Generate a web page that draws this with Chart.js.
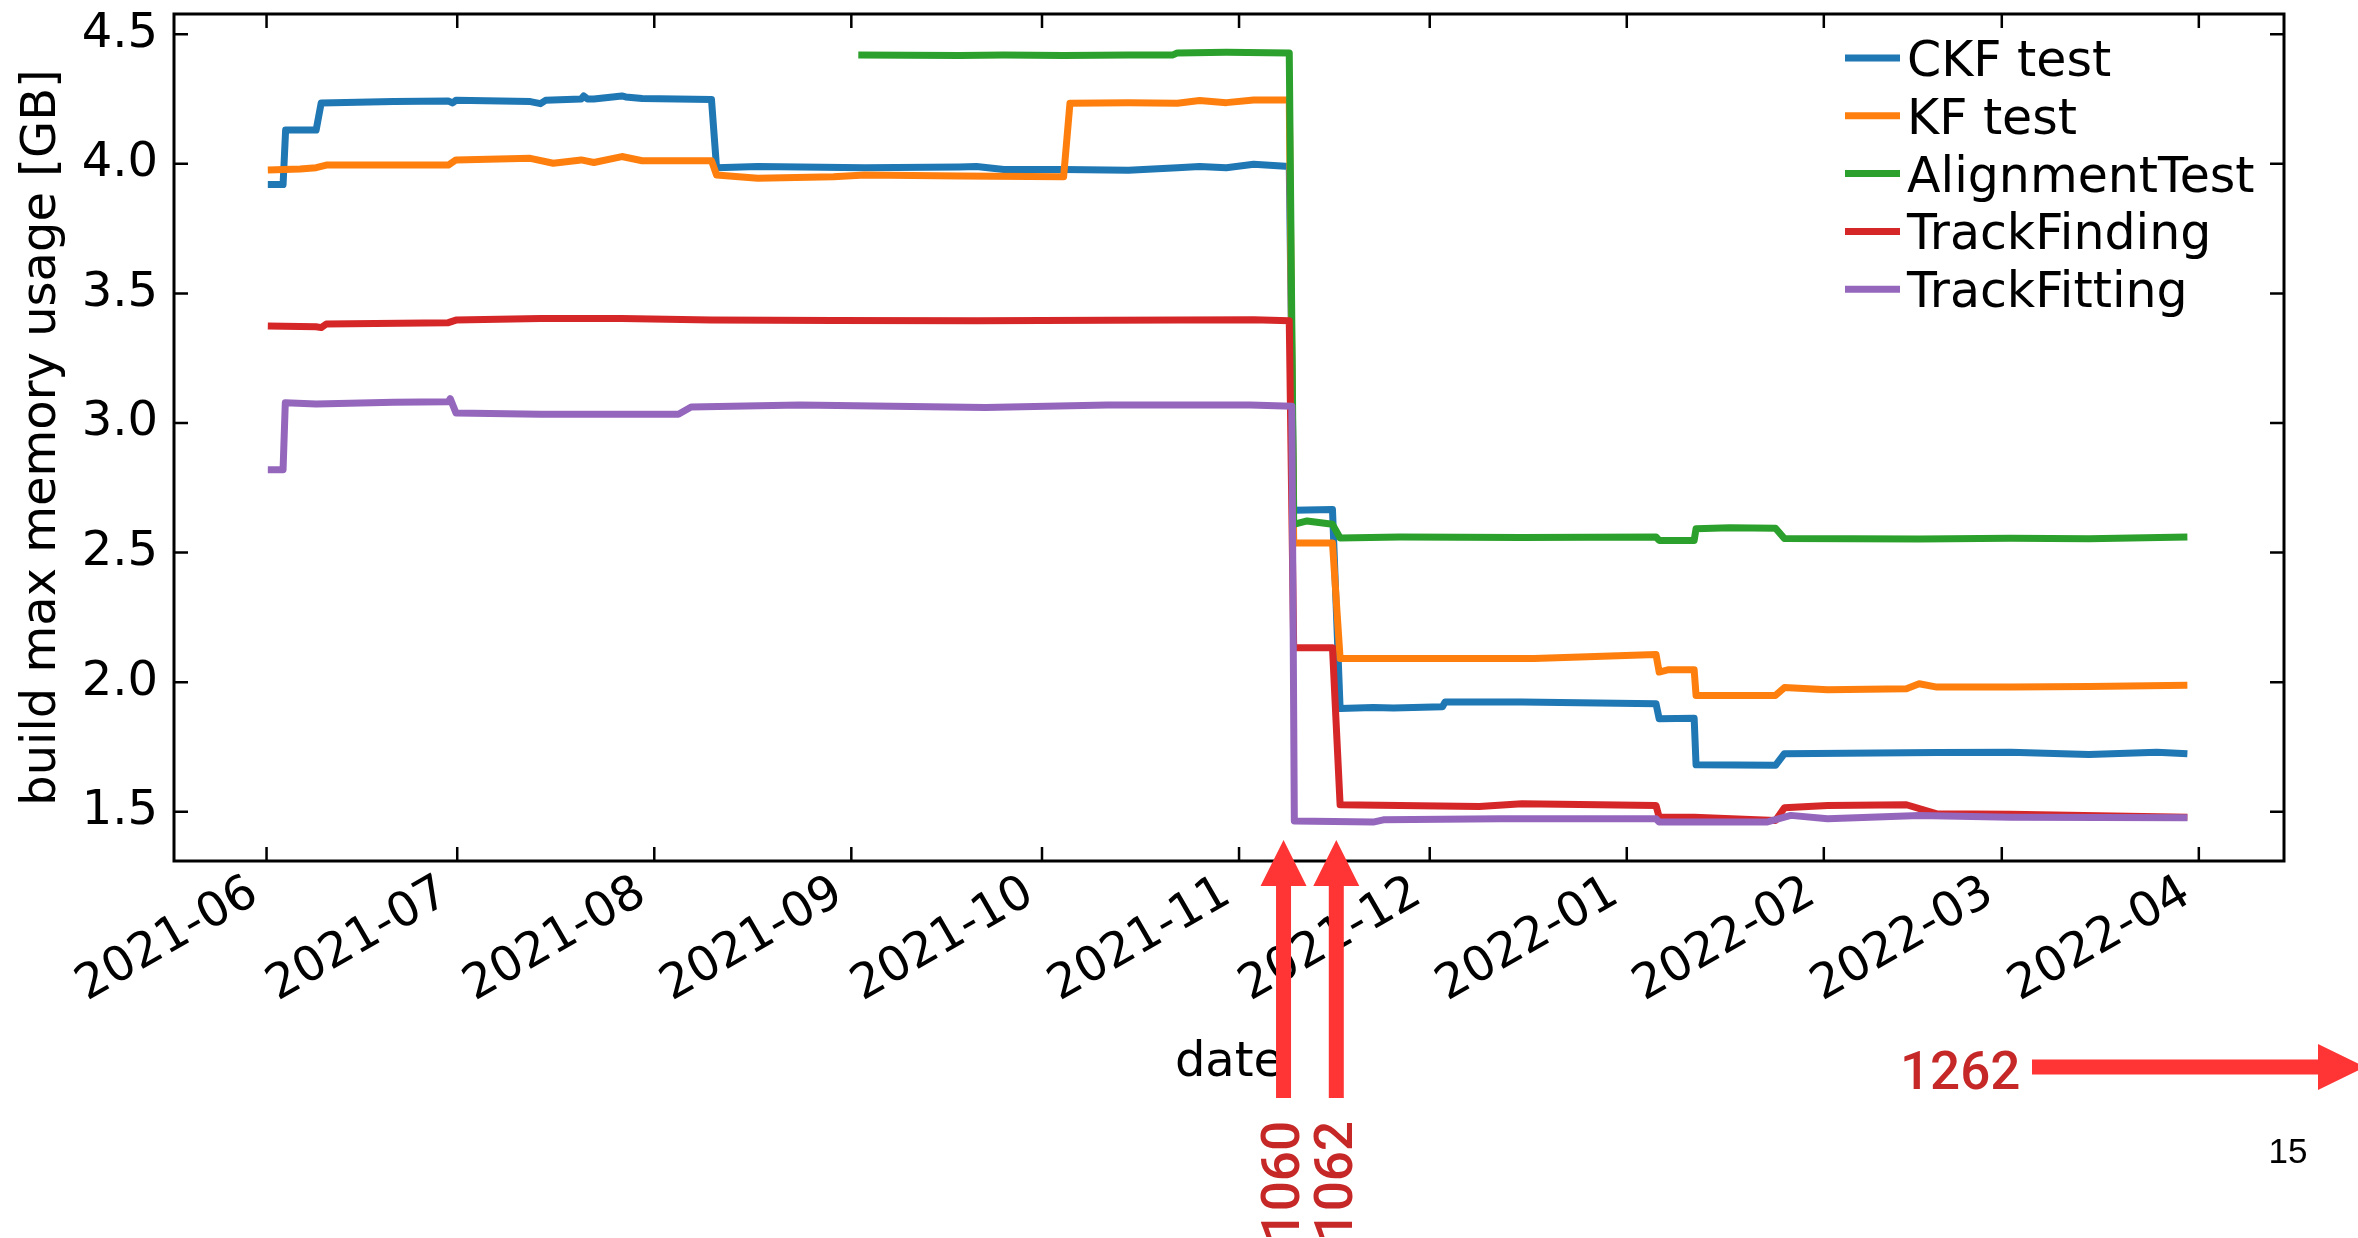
<!DOCTYPE html>
<html>
<head>
<meta charset="utf-8">
<title>build max memory usage</title>
<script src="https://cdn.jsdelivr.net/npm/chart.js@4.4.1/dist/chart.umd.min.js"></script>
<style>
    html, body { margin: 0; padding: 0; background: #ffffff; }
    #wrap { width: 2358px; height: 1238px; }
</style>
</head>
<body>
<div id="wrap"><canvas id="myChart" width="2358" height="1238"></canvas></div>
<script>
// x values are days since 2021-06-01
const monthDays = [0, 30, 61, 92, 122, 153, 183, 214, 245, 273, 304];
const monthLabels = ['2021-06', '2021-07', '2021-08', '2021-09', '2021-10', '2021-11',
    '2021-12', '2022-01', '2022-02', '2022-03', '2022-04'];
const yTicks = [1.5, 2.0, 2.5, 3.0, 3.5, 4.0, 4.5];

const seriesNames = ['CKF test', 'KF test', 'AlignmentTest', 'TrackFinding', 'TrackFitting'];
const seriesColors = ['#1f77b4', '#ff7f0e', '#2ca02c', '#d62728', '#9467bd'];

const ckfDays = [0.2, 2.6, 3.0, 7.8, 8.6, 20, 28.6, 29.3, 29.8, 41.5,
    43.1, 43.9, 49.5, 49.9, 50.5, 51.5, 55.9, 56.5, 59.1, 70.0,
    70.8, 77.3, 94.1, 109.0, 111.7, 116.0, 125.4, 135.6, 143.3, 146.8,
    151.0, 155.3, 160.9, 161.6, 167.7, 168.9, 174.1, 177.3, 185.0, 185.4,
    197.5, 218.6, 219.1, 224.6, 224.9, 237.4, 238.8, 262.8, 274.4, 286.7,
    297.4, 302.2];
const ckfValues = [3.92, 3.92, 4.13, 4.13, 4.235, 4.24, 4.242, 4.235, 4.245, 4.24,
    4.232, 4.245, 4.25, 4.262, 4.25, 4.25, 4.262, 4.258, 4.252, 4.248,
    3.985, 3.99, 3.985, 3.988, 3.99, 3.978, 3.978, 3.975, 3.985, 3.99,
    3.985, 3.998, 3.99, 2.663, 2.666, 1.898, 1.902, 1.90, 1.905, 1.923,
    1.923, 1.917, 1.859, 1.861, 1.681, 1.679, 1.724, 1.729, 1.730, 1.721,
    1.730, 1.724];

const kfDays = [0.2, 5.3, 7.8, 9.4, 28.6, 29.8, 41.5, 45.1, 49.5, 51.5,
    55.9, 59.1, 70.0, 70.8, 77.3, 89.2, 94.1, 109.0, 125.4, 126.4,
    135.6, 143.3, 146.8, 151.0, 155.3, 160.9, 161.6, 167.7, 168.9, 178.3,
    199.4, 218.6, 219.1, 220.6, 224.6, 224.9, 237.4, 238.8, 245.6, 258.0,
    260.0, 262.8, 274.4, 286.7, 302.2];
const kfValues = [3.976, 3.98, 3.985, 3.995, 3.995, 4.015, 4.021, 4.002, 4.015, 4.005,
    4.028, 4.012, 4.012, 3.957, 3.944, 3.95, 3.957, 3.953, 3.95, 4.234,
    4.236, 4.234, 4.244, 4.236, 4.246, 4.246, 2.537, 2.537, 2.091, 2.091,
    2.091, 2.107, 2.039, 2.048, 2.048, 1.949, 1.949, 1.979, 1.971, 1.975,
    1.994, 1.981, 1.981, 1.983, 1.988];

const alignDays = [93.1, 109.0, 116.0, 125.4, 135.6, 142.6, 143.3, 151.0, 160.9, 161.6,
    163.7, 167.7, 168.9, 178.3, 197.5, 218.6, 219.1, 224.6, 224.9, 230.2,
    237.4, 238.8, 260.0, 274.4, 286.7, 302.2];
const alignValues = [4.42, 4.418, 4.42, 4.418, 4.42, 4.42, 4.428, 4.43, 4.428, 2.609,
    2.622, 2.609, 2.556, 2.56, 2.558, 2.56, 2.547, 2.547, 2.592, 2.596,
    2.594, 2.554, 2.552, 2.555, 2.553, 2.56];

const findDays = [0.2, 7.8, 8.6, 9.4, 28.6, 29.8, 43.1, 55.9, 70.0, 89.2,
    111.7, 132.3, 155.3, 160.9, 161.6, 167.7, 168.9, 178.3, 190.8, 197.5,
    218.6, 219.1, 224.6, 237.4, 238.8, 245.6, 258.0, 262.8, 274.4, 302.2];
const findValues = [3.374, 3.371, 3.368, 3.382, 3.387, 3.397, 3.403, 3.403, 3.397, 3.395,
    3.394, 3.396, 3.398, 3.394, 2.133, 2.133, 1.527, 1.524, 1.52, 1.531,
    1.524, 1.479, 1.479, 1.466, 1.515, 1.524, 1.527, 1.492, 1.49, 1.479];

const fitDays = [0.2, 2.6, 2.95, 7.8, 20, 28.6, 28.9, 29.8, 43.1, 64.8,
    66.8, 83.9, 113.1, 132.3, 154.8, 161.3, 161.7, 174.1, 175.7, 194.0,
    218.6, 219.1, 236.0, 239.8, 245.6, 260.0, 274.4, 302.2];
const fitValues = [2.82, 2.82, 3.078, 3.073, 3.08, 3.082, 3.094, 3.039, 3.034, 3.034,
    3.062, 3.069, 3.06, 3.069, 3.069, 3.065, 1.464, 1.46, 1.469, 1.473,
    1.473, 1.46, 1.46, 1.486, 1.473, 1.486, 1.479, 1.477];

// slide annotations (commit numbers pointing at the drop)
const arrowDays = [160.0, 168.3];
const arrowLabels = ['1060', '1062'];
const sideLabel = '1262';
const pageNumber = '15';

const allDays = [ckfDays, kfDays, alignDays, findDays, fitDays];
const allValues = [ckfValues, kfValues, alignValues, findValues, fitValues];

const FONT = 'DejaVu Sans';

const datasets = seriesNames.map((name, i) => ({
    label: name,
    data: allDays[i].map((d, j) => ({ x: d, y: allValues[i][j] })),
    borderColor: seriesColors[i],
    backgroundColor: seriesColors[i],
    borderWidth: 7,
    pointRadius: 0,
    tension: 0,
    borderJoinStyle: 'round',
    order: seriesNames.length - i
}));

// frame with inward ticks on all four sides + legend
const framePlugin = {
    id: 'framePlugin',
    afterDatasetsDraw(chart) {
        const { ctx, chartArea: a, scales } = chart;
        const sx = scales.x, sy = scales.y;
        ctx.save();
        ctx.strokeStyle = '#000';
        ctx.lineWidth = 2.5;
        ctx.beginPath();
        sx.ticks.forEach(t => {
            const px = sx.getPixelForValue(t.value);
            ctx.moveTo(px, a.bottom); ctx.lineTo(px, a.bottom - 14);
            ctx.moveTo(px, a.top); ctx.lineTo(px, a.top + 14);
        });
        sy.ticks.forEach(t => {
            const py = sy.getPixelForValue(t.value);
            ctx.moveTo(a.left, py); ctx.lineTo(a.left + 14, py);
            ctx.moveTo(a.right, py); ctx.lineTo(a.right - 14, py);
        });
        ctx.stroke();
        ctx.lineWidth = 3;
        ctx.strokeRect(a.left, a.top, a.right - a.left, a.bottom - a.top);

        // legend, upper right
        const lx = a.right - 439;
        ctx.font = '49px "' + FONT + '"';
        ctx.textBaseline = 'alphabetic';
        ctx.textAlign = 'left';
        chart.data.datasets.forEach((ds, i) => {
            const ly = a.top + 44 + i * 57.8;
            ctx.strokeStyle = ds.borderColor;
            ctx.lineWidth = 7;
            ctx.beginPath();
            ctx.moveTo(lx, ly); ctx.lineTo(lx + 55, ly);
            ctx.stroke();
            ctx.fillStyle = '#000';
            ctx.fillText(ds.label, lx + 62, ly + 18);
        });
        ctx.restore();
    }
};

const notesPlugin = {
    id: 'notesPlugin',
    afterDraw(chart) {
        const { ctx, scales } = chart;
        const red = '#ff3434';
        const dark = '#c62828';
        ctx.save();
        ctx.fillStyle = red;
        arrowDays.forEach((d, i) => {
            const px = scales.x.getPixelForValue(d);
            ctx.beginPath();
            ctx.moveTo(px, 840);
            ctx.lineTo(px + 23, 886);
            ctx.lineTo(px + 7.5, 886);
            ctx.lineTo(px + 7.5, 1098);
            ctx.lineTo(px - 7.5, 1098);
            ctx.lineTo(px - 7.5, 886);
            ctx.lineTo(px - 23, 886);
            ctx.closePath();
            ctx.fill();

            ctx.save();
            ctx.fillStyle = dark;
            ctx.font = '500 53px Roboto';
            ctx.translate(px + 2, 1121);
            ctx.rotate(-Math.PI / 2);
            ctx.textAlign = 'right';
            ctx.textBaseline = 'middle';
            ctx.fillText(arrowLabels[i], 0, 0);
            ctx.restore();
        });

        // right-pointing arrow
        ctx.beginPath();
        ctx.moveTo(2032, 1059.5);
        ctx.lineTo(2318, 1059.5);
        ctx.lineTo(2318, 1044);
        ctx.lineTo(2365, 1067);
        ctx.lineTo(2318, 1090);
        ctx.lineTo(2318, 1074.5);
        ctx.lineTo(2032, 1074.5);
        ctx.closePath();
        ctx.fill();

        ctx.fillStyle = dark;
        ctx.font = '500 53px Roboto';
        ctx.textAlign = 'left';
        ctx.textBaseline = 'alphabetic';
        ctx.fillText(sideLabel, 1900, 1089);

        ctx.fillStyle = '#000';
        ctx.font = '35px "Liberation Sans"';
        ctx.textAlign = 'center';
        ctx.fillText(pageNumber, 2288, 1163);
        ctx.restore();
    }
};

new Chart(document.getElementById('myChart'), {
    type: 'line',
    data: { datasets: datasets },
    options: {
        responsive: false,
        animation: false,
        events: [],
        layout: { padding: { top: 14, right: 74, bottom: 0, left: 0 } },
        plugins: {
            legend: { display: false },
            tooltip: { enabled: false }
        },
        scales: {
            x: {
                type: 'linear',
                min: -14.56,
                max: 317.4,
                afterBuildTicks: s => { s.ticks = monthDays.map(v => ({ value: v })); },
                afterFit: s => { s.height = 377; s.paddingLeft = 0; s.paddingRight = 0; },
                grid: { display: false, drawTicks: false },
                border: { display: false },
                ticks: {
                    autoSkip: false,
                    minRotation: 30,
                    maxRotation: 30,
                    padding: 4,
                    labelOffset: -12,
                    color: '#000',
                    font: { family: FONT, size: 48 },
                    callback: (v, i) => monthLabels[i]
                },
                title: {
                    display: true,
                    text: 'date',
                    color: '#000',
                    font: { family: FONT, size: 48 },
                    padding: { top: 0, bottom: 146 }
                }
            },
            y: {
                type: 'linear',
                min: 1.31,
                max: 4.578,
                afterBuildTicks: s => { s.ticks = yTicks.map(v => ({ value: v })); },
                afterFit: s => { s.width = 174; s.paddingTop = 0; s.paddingBottom = 0; },
                grid: { display: false, drawTicks: false },
                border: { display: false },
                ticks: {
                    padding: 16,
                    color: '#000',
                    font: { family: FONT, size: 48 },
                    callback: v => Number(v).toFixed(1)
                },
                title: {
                    display: true,
                    text: 'build max memory usage [GB]',
                    color: '#000',
                    font: { family: FONT, size: 48 },
                    padding: { top: 14, bottom: 0 }
                }
            }
        }
    },
    plugins: [framePlugin, notesPlugin]
});
</script>
</body>
</html>
